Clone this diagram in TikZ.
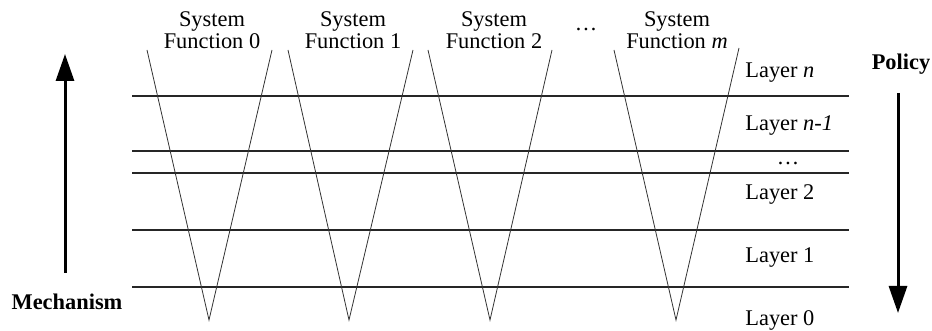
\documentclass[tikz,border=0pt]{standalone}
\usepackage{fontspec}
\setmainfont{Liberation Serif}
\usetikzlibrary{arrows.meta}
\tikzset{
  lbl/.style={anchor=base, inner sep=0pt, font=\fontsize{11.2pt}{11.5pt}\selectfont},
  lyr/.style={anchor=base west, inner sep=0pt, font=\fontsize{11.2pt}{11.5pt}\selectfont},
  boldlbl/.style={anchor=base, inner sep=0pt, font=\fontsize{11.2pt}{11.5pt}\selectfont\bfseries},
  layerline/.style={line width=0.55pt, black!85},
  vline/.style={line width=0.4pt, black!80},
  bigarrow/.style={line width=1.5pt, -{Triangle[length=13.5pt, width=9pt]}},
}
\begin{document}
\begin{tikzpicture}[x=0.5pt, y=-0.5pt]
\useasboundingbox (0,0) rectangle (932,331);
% layer boundary lines
\foreach \yy [count=\i] in {96,151,173,230,287} {
  \coordinate (hl\i) at (132,\yy);
  \coordinate (hr\i) at (849,\yy);
  \draw[layerline] (hl\i) -- (hr\i);
}
% system function V shapes
\foreach \nm/\xl/\xb/\xr/\yr in {v0/147/209/272/50, v1/288/349/413/50, v2/428/490/552/50, vm/614/676/739/48} {
  \coordinate (\nm a) at (\xl,50);
  \coordinate (\nm b) at (\xb,320);
  \coordinate (\nm c) at (\xr,\yr);
  \draw[vline] (\nm a) -- (\nm b) -- (\nm c);
}
% labels of system functions
\node[lbl] (s0a) at (212,27) {System};
\node[lbl] (s0b) at (212,49) {Function 0};
\node[lbl] (s1a) at (353,27) {System};
\node[lbl] (s1b) at (353,49) {Function 1};
\node[lbl] (s2a) at (494,27) {System};
\node[lbl] (s2b) at (494,49) {Function 2};
\node[lbl] (sdots) at (586,31) {\dots};
\node[lbl] (sma) at (677,27) {System};
\node[lbl] (smb) at (677,49) {Function \textit{m}};
% layer labels
\node[lyr] (ln) at (745,78) {Layer \textit{n}};
\node[lyr] (ln1) at (745,131) {Layer \textit{n-1}};
\node[lbl] (ldots) at (788,165) {\dots};
\node[lyr] (l2) at (745,200) {Layer 2};
\node[lyr] (l1) at (745,263) {Layer 1};
\node[lyr] (l0) at (745,326) {Layer 0};
% mechanism and policy
\node[boldlbl] (mech) at (67,310) {Mechanism};
\node[boldlbl] (pol) at (901,70) {Policy};
\coordinate (mbot) at (65,273);
\coordinate (mtop) at (65,54);
\draw[bigarrow] (mbot) -- (mtop);
\coordinate (ptop) at (898,93);
\coordinate (pbot) at (898,313);
\draw[bigarrow] (ptop) -- (pbot);
\end{tikzpicture}
\end{document}
